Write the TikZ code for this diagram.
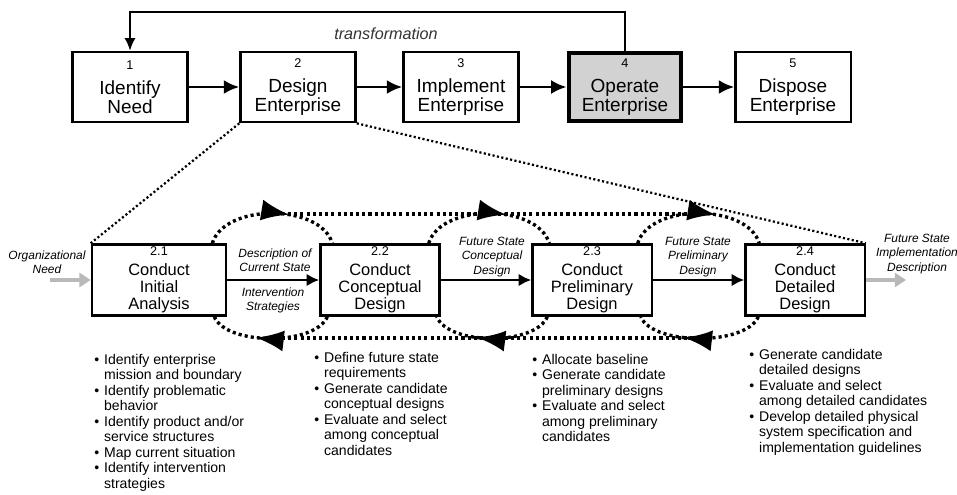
\documentclass[tikz,border=0pt]{standalone}
\usepackage{fontspec}
\setmainfont{Liberation Sans}
\usetikzlibrary{arrows.meta,calc,decorations.markings}
\newcommand{\itm}[1]{\makebox[7pt][l]{\textbullet}#1}
\newcommand{\cnt}[1]{\hspace*{7pt}#1}

\begin{document}
\begin{tikzpicture}[x=0.025cm,y=-0.025cm,
    phase/.style={draw,line width=1.6pt,minimum width=2.88cm,minimum height=1.76cm,
      align=center,inner sep=1pt,font=\fontsize{13.5}{13.5}\selectfont},
    subphase/.style={draw,line width=1.6pt,minimum width=2.98cm,minimum height=1.78cm,
      align=center,inner sep=1pt,font=\fontsize{11.7}{12.4}\selectfont},
    flow/.style={line width=2pt,-{Latex[length=11pt,width=10pt]}},
    subflow/.style={line width=1.8pt,-{Latex[length=9pt,width=9pt]}},
    ioflow/.style={gray!55,line width=2.5pt,-{Triangle[length=8pt,width=10pt]}},
    lbl/.style={font=\fontsize{8.5}{10}\selectfont\itshape,align=center,inner sep=0pt},
    bigdots/.style={line width=2.4pt,dash pattern=on 2.2pt off 2.2pt},
    finedots/.style={line width=1.6pt,dash pattern=on 1.5pt off 1.7pt},
    iterate/.style={bigdots,postaction={decorate},decoration={markings,
      mark=at position 0.62 with {\arrow{Latex[length=20pt,width=15pt]}}}},
    bullets/.style={anchor=north west,inner sep=0pt,align=left,
      font=\fontsize{10}{11}\selectfont}]
\useasboundingbox (0,0) rectangle (957,494);

% life cycle
\node[phase] (idn) at (130,87) {{\fontsize{9}{9}\selectfont 1}\\[4pt]Identify\\Need};
\node[phase] (den) at (298,87) {{\fontsize{9}{9}\selectfont 2}\\[4pt]Design\\Enterprise};
\node[phase] (imp) at (461,87) {{\fontsize{9}{9}\selectfont 3}\\[4pt]Implement\\Enterprise};
\node[phase,line width=3.5pt,fill=gray!35,minimum width=2.8cm,minimum height=1.7cm] (opr) at (625,87)
  {{\fontsize{9}{9}\selectfont 4}\\[4pt]Operate\\Enterprise};
\node[phase] (dis) at (793,87) {{\fontsize{9}{9}\selectfont 5}\\[4pt]Dispose\\Enterprise};
\draw[flow] (idn) -- (den);
\draw[flow] (den) -- (imp);
\draw[flow] (imp) -- (opr);
\draw[flow] (opr) -- (dis);
\draw[line width=1.4pt,-{Latex[length=9pt,width=8pt]}] (opr.north) -- ++(0,-39) -| (idn.north);
\node[font=\fontsize{11.5}{12}\selectfont\itshape,text=black!80] (trf) at (386,34) {transformation};

% design enterprise steps
\node[subphase,minimum width=3.36cm] (ia) at (159,280) {{\fontsize{9}{9}\selectfont 2.1}\\[1.5pt]Conduct\\Initial\\Analysis};
\node[subphase] (cd) at (380,280) {{\fontsize{9}{9}\selectfont 2.2}\\[1.5pt]Conduct\\Conceptual\\Design};
\node[subphase] (pd) at (592,280) {{\fontsize{9}{9}\selectfont 2.3}\\[1.5pt]Conduct\\Preliminary\\Design};
\node[subphase] (dd) at (805,280) {{\fontsize{9}{9}\selectfont 2.4}\\[1.5pt]Conduct\\Detailed\\Design};
\draw[finedots] (den.south west) -- (ia.north west);
\draw[finedots] (den.south east) -- (dd.north east);
\draw[subflow] (ia) -- (cd);
\draw[subflow] (cd) -- (pd);
\draw[subflow] (pd) -- (dd);

% iteration loops
\draw[iterate] ($(ia.north east)+(-15,0)$) .. controls +(12,-40) and +(-12,-40) .. ($(cd.north west)+(13,0)$);
\draw[iterate] ($(cd.north east)+(-12,0)$) .. controls +(12,-40) and +(-12,-40) .. ($(pd.north west)+(18,0)$);
\draw[iterate] ($(pd.north east)+(-15,0)$) .. controls +(12,-40) and +(-12,-40) .. ($(dd.north west)+(15,0)$);
\draw[iterate] ($(cd.south west)+(8,0)$) .. controls +(-12,29) and +(12,29) .. ($(ia.south east)+(-13,0)$);
\draw[iterate] ($(pd.south west)+(16,0)$) .. controls +(-12,29) and +(12,29) .. ($(cd.south east)+(-4,0)$);
\draw[iterate] ($(dd.south west)+(14,0)$) .. controls +(-12,29) and +(12,29) .. ($(pd.south east)+(-12,0)$);
\coordinate (t1) at (288,214); \coordinate (t3) at (690,214);
\coordinate (b1) at (282,338); \coordinate (b3) at (712,338);
\draw[bigdots] (t1) -- (t3);
\draw[bigdots] (b1) -- (b3);

% inputs and outputs
\coordinate (in) at (50,280); \coordinate (out) at (906,280);
\draw[ioflow] (in) -- (ia.west);
\draw[ioflow] (dd.east) -- (out);
\node[lbl] (orgneed) at (47,262) {Organizational\\Need};
\node[lbl] (impdesc) at (917,254) {Future State\\Implementation\\Description};
\node[lbl] (curst) at (275,260) {Description of\\Current State};
\node[lbl] (intstr) at (273,300) {Intervention\\Strategies};
\node[lbl] (fscd) at (492,257) {Future State\\Conceptual\\Design};
\node[lbl] (fspd) at (698,257) {Future State\\Preliminary\\Design};

% activities
\node[bullets] (act1) at (94,354) {\itm{Identify enterprise}\\\cnt{mission and boundary}\\
  \itm{Identify problematic}\\\cnt{behavior}\\\itm{Identify product and/or}\\
  \cnt{service structures}\\\itm{Map current situation}\\\itm{Identify intervention}\\
  \cnt{strategies}};
\node[bullets] (act2) at (314,352) {\itm{Define future state}\\\cnt{requirements}\\
  \itm{Generate candidate}\\\cnt{conceptual designs}\\\itm{Evaluate and select}\\
  \cnt{among conceptual}\\\cnt{candidates}};
\node[bullets] (act3) at (532,354) {\itm{Allocate baseline}\\\itm{Generate candidate}\\
  \cnt{preliminary designs}\\\itm{Evaluate and select}\\\cnt{among preliminary}\\
  \cnt{candidates}};
\node[bullets] (act4) at (749,349) {\itm{Generate candidate}\\\cnt{detailed designs}\\
  \itm{Evaluate and select}\\\cnt{among detailed candidates}\\\itm{Develop detailed physical}\\
  \cnt{system specification and}\\\cnt{implementation guidelines}};
\end{tikzpicture}
\end{document}
